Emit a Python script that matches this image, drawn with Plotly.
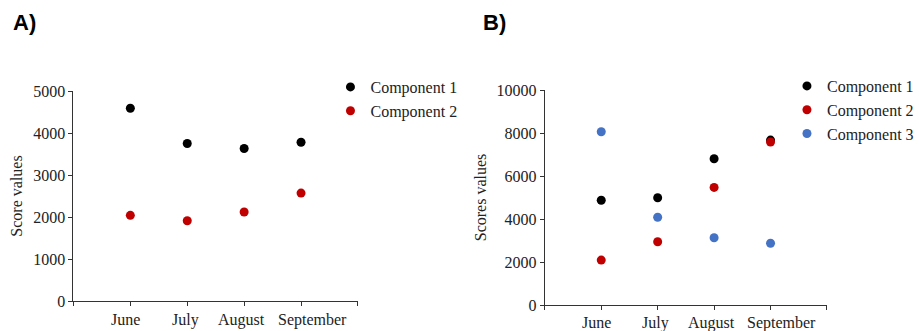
import plotly.graph_objects as go

months = ["June", "July", "August", "September"]
a_comp1 = [4590, 3750, 3630, 3780]
a_comp2 = [2040, 1910, 2120, 2570]
b_comp1 = [4870, 4990, 6800, 7670]
b_comp2 = [2090, 2940, 5470, 7580]
b_comp3 = [8060, 4080, 3130, 2870]
names = ["Component 1", "Component 2", "Component 3"]
colors = ["#000000", "#C00000", "#4472C4"]
# small horizontal label offsets (px) seen in the reference
label_shift = [-5, -2, -3, 11]

W, H = 919, 331
x_idx = list(range(len(months)))
tickvals = [-1] + x_idx + [len(months)]

FONT = "Liberation Serif"
TXT = "#222222"
fig = go.Figure()

for vals, nm, col in zip([a_comp1, a_comp2], names, colors):
    fig.add_trace(go.Scatter(x=x_idx, y=vals, mode="markers", name=nm,
                             marker=dict(color=col, size=9),
                             xaxis="x", yaxis="y", legend="legend"))
for vals, nm, col in zip([b_comp1, b_comp2, b_comp3], names, colors):
    fig.add_trace(go.Scatter(x=x_idx, y=vals, mode="markers", name=nm,
                             marker=dict(color=col, size=9),
                             xaxis="x2", yaxis="y2", legend="legend2"))

axcommon = dict(showline=True, linecolor="#333333", linewidth=1, showgrid=False,
                zeroline=False, ticks="outside", ticklen=4, tickcolor="#333333",
                automargin=False,
                tickfont=dict(family=FONT, size=16, color=TXT))

def xa(domain):
    return dict(domain=domain, range=[-1, len(months)], tickmode="array",
                tickvals=tickvals, ticktext=[""] * len(tickvals), tickangle=0, **axcommon)

def ya(domain, rng, dt, title, anchor):
    return dict(domain=domain, range=rng, dtick=dt, tick0=0, anchor=anchor,
                tickformat="d",
                title=dict(text=title, font=dict(family=FONT, size=16, color=TXT), standoff=6),
                **axcommon)

annotations = [
    dict(text="<b>A)</b>", x=11 / W, y=(H - 23) / H, xref="paper", yref="paper",
         xanchor="left", yanchor="middle", showarrow=False,
         font=dict(family="Liberation Sans", size=22, color="#000000")),
    dict(text="<b>B)</b>", x=485 / W, y=(H - 23) / H, xref="paper", yref="paper",
         xanchor="left", yanchor="middle", showarrow=False,
         font=dict(family="Liberation Sans", size=22, color="#000000")),
]
for xref, yref, ysh in [("x", "y domain", -8), ("x2", "y2 domain", -7)]:
    for i, (m, sh) in enumerate(zip(months, label_shift)):
        annotations.append(dict(text=m, x=x_idx[i], y=0, xref=xref, yref=yref,
                                xanchor="center", yanchor="top", showarrow=False,
                                xshift=sh, yshift=ysh,
                                font=dict(family=FONT, size=16, color=TXT)))

fig.update_layout(
    width=W, height=H, margin=dict(l=0, r=0, t=0, b=0),
    paper_bgcolor="white", plot_bgcolor="white",
    xaxis=dict(anchor="y", **xa([74 / W, 360.7 / W])),
    yaxis=ya([(H - 301) / H, (H - 91) / H], [0, 5000], 1000, "Score values", "x"),
    xaxis2=dict(anchor="y2", **xa([549 / W, 833.3 / W])),
    yaxis2=ya([(H - 305) / H, (H - 90) / H], [0, 10000], 2000, "Scores values", "x2"),
    legend=dict(x=333 / W, xanchor="left", y=(H - 70) / H, yanchor="top",
                font=dict(family=FONT, size=16, color=TXT),
                bgcolor="rgba(0,0,0,0)", tracegroupgap=0),
    legend2=dict(x=793 / W, xanchor="left", y=(H - 69) / H, yanchor="top",
                 font=dict(family=FONT, size=16, color=TXT),
                 bgcolor="rgba(0,0,0,0)", tracegroupgap=0),
    showlegend=True,
    annotations=annotations,
)

fig.write_html("out.html")
